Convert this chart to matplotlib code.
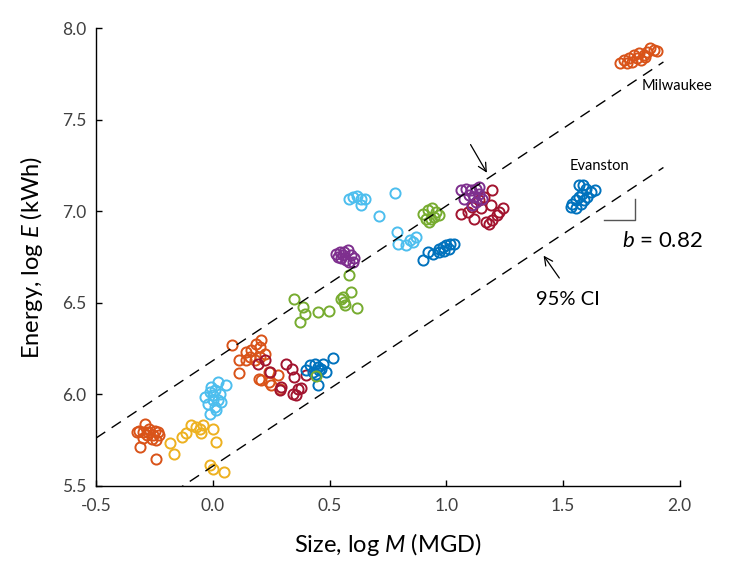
import matplotlib
matplotlib.use("Agg")
import matplotlib.pyplot as plt

plt.rcParams['font.family'] = ['Lato', 'DejaVu Sans']
plt.rcParams['mathtext.fontset'] = 'custom'
plt.rcParams['mathtext.rm'] = 'Lato'
plt.rcParams['mathtext.it'] = 'Lato:italic'

# size (log M) and energy (log E) per colour group
orange_x = [-0.315, -0.291, -0.272, -0.248, -0.234, -0.312, -0.300, -0.283, -0.262, -0.244,
            -0.276, -0.298, -0.255, -0.241, -0.230, -0.326,
            0.084, 0.112, 0.112, 0.144, 0.165, 0.187, 0.208, 0.201, 0.158, 0.179, 0.201, 0.222,
            0.144, 0.198, 0.240, 0.279, 0.240, 0.250, 0.286, 0.208,
            1.746, 1.761, 1.782, 1.803, 1.817, 1.825, 1.846, 1.860, 1.874, 1.889, 1.903,
            1.775, 1.796, 1.832, 1.853]
orange_y = [5.799, 5.840, 5.813, 5.800, 5.794, 5.712, 5.763, 5.776, 5.758, 5.749,
            5.794, 5.794, 5.776, 5.649, 5.776, 5.794,
            6.268, 6.186, 6.117, 6.232, 6.240, 6.277, 6.295, 6.259, 6.204, 6.186, 6.204, 6.222,
            6.186, 6.085, 6.122, 6.104, 6.067, 6.049, 6.031, 6.077,
            7.807, 7.825, 7.834, 7.852, 7.834, 7.862, 7.852, 7.871, 7.889, 7.880, 7.876,
            7.807, 7.816, 7.825, 7.843]

yellow_x = [-0.184, -0.167, -0.130, -0.113, -0.091, -0.070, -0.056, -0.049, -0.041,
            0.001, 0.016, -0.013, 0.001, 0.047]
yellow_y = [5.735, 5.672, 5.767, 5.789, 5.831, 5.822, 5.813, 5.789, 5.831,
            5.813, 5.740, 5.612, 5.594, 5.575]

lightblue_x = [-0.034, -0.013, 0.009, 0.023, 0.058, 0.001, 0.023, -0.020, 0.009, -0.013,
               0.016, 0.001, 0.030, 0.037, -0.006,
               0.585, 0.600, 0.617, 0.635, 0.654, 0.635, 0.782, 0.714, 0.788, 0.792,
               0.827, 0.844, 0.856, 0.870]
lightblue_y = [5.985, 6.013, 6.022, 6.067, 6.049, 5.967, 5.967, 5.949, 5.931, 5.894,
               5.913, 5.995, 6.004, 5.958, 6.040,
               7.069, 7.078, 7.082, 7.069, 7.069, 7.033, 7.100, 6.973, 6.887, 6.823,
               6.814, 6.842, 6.832, 6.860]

darkred_x = [0.222, 0.194, 0.312, 0.340, 0.346, 0.365, 0.343, 0.358, 0.379, 0.286,
             0.293, 0.400, 0.244,
             1.063, 1.091, 1.112, 1.120, 1.141, 1.162, 1.191, 1.198, 1.170, 1.184,
             1.198, 1.219, 1.226, 1.241, 1.148]
darkred_y = [6.186, 6.168, 6.168, 6.140, 6.095, 6.031, 6.004, 5.995, 6.036, 6.022,
             6.040, 6.104, 6.122,
             6.987, 6.996, 7.024, 6.960, 7.060, 7.078, 7.033, 7.115, 6.942, 6.933,
             6.951, 6.978, 6.996, 7.015, 7.015]

blue_x = [0.400, 0.415, 0.436, 0.450, 0.464, 0.486, 0.429, 0.443, 0.457, 0.471, 0.514, 0.450,
          0.899, 0.920, 0.944, 0.967, 0.984, 0.998, 1.015, 1.034, 0.970, 0.991, 1.013,
          1.533, 1.540, 1.554, 1.568, 1.583, 1.568, 1.585, 1.597, 1.618, 1.637,
          1.554, 1.576, 1.590, 1.604]
blue_y = [6.131, 6.158, 6.168, 6.149, 6.140, 6.122, 6.122, 6.113, 6.131, 6.168, 6.200, 6.049,
          6.736, 6.778, 6.769, 6.796, 6.805, 6.814, 6.823, 6.820, 6.778, 6.783, 6.796,
          7.024, 7.042, 7.060, 7.078, 7.096, 7.142, 7.142, 7.124, 7.106, 7.115,
          7.015, 7.042, 7.060, 7.078]

green_x = [0.443, 0.350, 0.386, 0.393, 0.375, 0.450, 0.497, 0.550, 0.564, 0.568,
           0.593, 0.618, 0.582, 0.557,
           0.899, 0.920, 0.941, 0.956, 0.913, 0.934, 0.949, 0.927, 0.970]
green_y = [6.098, 6.523, 6.477, 6.437, 6.395, 6.450, 6.454, 6.523, 6.505, 6.486,
           6.559, 6.474, 6.650, 6.533,
           6.987, 7.005, 7.015, 6.996, 6.960, 6.960, 6.969, 6.942, 6.980]

purple_x = [0.528, 0.543, 0.564, 0.578, 0.593, 0.607, 0.550, 0.571, 0.585, 0.535, 0.557, 0.600,
            1.063, 1.084, 1.106, 1.127, 1.141, 1.077, 1.098, 1.120, 1.141, 1.155, 1.127, 1.112]
purple_y = [6.769, 6.778, 6.778, 6.787, 6.760, 6.742, 6.742, 6.732, 6.723, 6.750, 6.760, 6.723,
            7.115, 7.124, 7.115, 7.124, 7.133, 7.069, 7.087, 7.078, 7.096, 7.069, 7.051, 7.033]

# fitted line and 95% CI band edges
fit_x = [-0.5, 1.93]
slope = 0.845
upper_at0 = 6.184
lower_at0 = 5.608

fig, ax = plt.subplots(figsize=(7.47, 5.61), dpi=100)
fig.subplots_adjust(left=0.1285, right=0.910, top=0.950, bottom=0.1337)

groups = [
    (orange_x, orange_y, '#D95319'),
    (yellow_x, yellow_y, '#EDB120'),
    (lightblue_x, lightblue_y, '#4DBEEE'),
    (darkred_x, darkred_y, '#A2142F'),
    (blue_x, blue_y, '#0072BD'),
    (green_x, green_y, '#77AC30'),
    (purple_x, purple_y, '#7E2F8E'),
]
for gx, gy, col in groups:
    ax.plot(gx, gy, 'o', mfc='none', mec=col, ms=7.3, mew=1.4, ls='none')

ax.plot(fit_x, [upper_at0 + slope * v for v in fit_x], color='black', lw=1.0,
        dashes=(8, 5.5))
ax.plot(fit_x, [lower_at0 + slope * v for v in fit_x], color='black', lw=1.0,
        dashes=(8, 5.5))

# slope triangle
ax.plot([1.675, 1.808, 1.808], [6.951, 6.951, 7.066], color='#555555', lw=1.0)

ax.annotate('', xy=(1.18, 7.197), xytext=(1.098, 7.377),
            arrowprops=dict(arrowstyle='->,head_length=0.6,head_width=0.3',
                            color='black', lw=0.9))
ax.annotate('', xy=(1.41, 6.770), xytext=(1.491, 6.623),
            arrowprops=dict(arrowstyle='->,head_length=0.6,head_width=0.3',
                            color='black', lw=0.9))

ax.text(1.52, 6.52, '95% CI', fontsize=14.5, ha='center', va='center')
ax.text(1.927, 6.84, '$b$ = 0.82', fontsize=16, ha='center', va='center')
ax.text(1.654, 7.246, 'Evanston', fontsize=10.5, ha='center', va='center')
ax.text(1.987, 7.683, 'Milwaukee', fontsize=10.5, ha='center', va='center')

ax.set_xlim(-0.5, 2.0)
ax.set_ylim(5.5, 8.0)
ax.set_xticks([-0.5, 0.0, 0.5, 1.0, 1.5, 2.0])
ax.set_yticks([5.5, 6.0, 6.5, 7.0, 7.5, 8.0])
ax.set_xticklabels(['-0.5', '0.0', '0.5', '1.0', '1.5', '2.0'])
ax.set_yticklabels(['5.5', '6.0', '6.5', '7.0', '7.5', '8.0'])
ax.spines['top'].set_visible(False)
ax.spines['right'].set_visible(False)
ax.spines['left'].set_linewidth(1.0)
ax.spines['bottom'].set_linewidth(1.0)
ax.tick_params(axis='both', direction='in', length=4, width=1.0,
               labelsize=12.5, labelcolor='#404040')
ax.tick_params(axis='x', pad=9)
ax.tick_params(axis='y', pad=7)

ax.set_xlabel('Size, log $M$ (MGD)', fontsize=17, labelpad=12)
ax.set_ylabel('Energy, log $E$ (kWh)', fontsize=17, labelpad=12)

plt.savefig('out.png', dpi=100)
